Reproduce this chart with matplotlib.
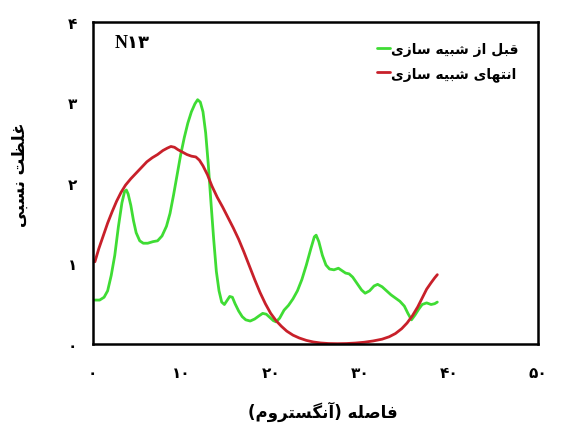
import matplotlib
matplotlib.use("Agg")
import matplotlib.pyplot as plt

# ---- data -------------------------------------------------------------
x_before = [0.27, 0.8, 1.3, 1.7, 2.1, 2.5, 2.9, 3.3, 3.6, 3.8, 4.0, 4.3, 4.6,
            4.9, 5.3, 5.7, 6.2, 6.8, 7.3, 7.8, 8.3, 8.7, 9.1, 9.5, 9.9, 10.3,
            10.7, 11.1, 11.5, 11.8, 12.1, 12.4, 12.7, 13.0, 13.3, 13.6, 13.9,
            14.2, 14.5, 14.8, 15.1, 15.4, 15.7, 16.0, 16.4, 16.8, 17.2, 17.7,
            18.2, 18.7, 19.1, 19.5, 19.9, 20.3, 20.6, 21.0, 21.5, 22.0, 22.5,
            23.0, 23.5, 24.0, 24.5, 24.9, 25.1, 25.4, 25.8, 26.2, 26.6, 27.1,
            27.6, 28.0, 28.4, 28.8, 29.2, 29.7, 30.2, 30.6, 31.1, 31.6, 32.0,
            32.5, 33.0, 33.5, 34.0, 34.5, 35.0, 35.4, 35.8, 36.2, 36.6, 37.0,
            37.5, 38.0, 38.4, 38.7]
y_before = [0.545, 0.545, 0.58, 0.66, 0.85, 1.10, 1.45, 1.75, 1.89, 1.91, 1.86,
            1.72, 1.53, 1.38, 1.28, 1.25, 1.25, 1.27, 1.28, 1.34, 1.46, 1.62,
            1.85, 2.10, 2.35, 2.56, 2.74, 2.88, 2.98, 3.03, 3.00, 2.88, 2.62,
            2.22, 1.75, 1.30, 0.90, 0.66, 0.52, 0.49, 0.54, 0.59, 0.58, 0.50,
            0.41, 0.34, 0.30, 0.285, 0.31, 0.35, 0.38, 0.37, 0.33, 0.29, 0.275,
            0.32, 0.42, 0.48, 0.56, 0.66, 0.80, 0.98, 1.18, 1.33, 1.35, 1.27,
            1.10, 0.98, 0.93, 0.92, 0.94, 0.91, 0.88, 0.87, 0.83, 0.75, 0.67,
            0.63, 0.66, 0.72, 0.74, 0.71, 0.66, 0.61, 0.57, 0.53, 0.47, 0.38,
            0.30, 0.36, 0.43, 0.49, 0.51, 0.49, 0.50, 0.52]

x_end = [0.27, 0.7, 1.2, 1.7, 2.2, 2.7, 3.2, 3.7, 4.3, 4.9, 5.5, 6.1, 6.7, 7.3,
         7.9, 8.4, 8.8, 9.2, 9.6, 10.1, 10.6, 11.1, 11.6, 12.0, 12.4, 12.9,
         13.4, 14.0, 14.6, 15.2, 15.8, 16.4, 17.0, 17.6, 18.2, 18.8, 19.4, 20.0,
         20.6, 21.2, 21.8, 22.5, 23.2, 24.0, 24.8, 25.6, 26.5, 27.5, 28.5, 29.5,
         30.5, 31.5, 32.5, 33.3, 34.0, 34.7, 35.3, 35.9, 36.5, 37.0, 37.5, 38.0,
         38.4, 38.7]
y_end = [1.02, 1.18, 1.34, 1.50, 1.64, 1.77, 1.88, 1.97, 2.05, 2.12, 2.19, 2.26,
         2.31, 2.35, 2.40, 2.43, 2.45, 2.44, 2.41, 2.38, 2.35, 2.33, 2.32, 2.28,
         2.21, 2.10, 1.96, 1.82, 1.70, 1.57, 1.44, 1.30, 1.14, 0.97, 0.80, 0.64,
         0.50, 0.38, 0.29, 0.22, 0.16, 0.11, 0.075, 0.045, 0.025, 0.013, 0.006,
         0.004, 0.006, 0.012, 0.022, 0.038, 0.06, 0.09, 0.13, 0.19, 0.26, 0.35,
         0.46, 0.57, 0.68, 0.76, 0.82, 0.86]

x_ticks = [0, 10, 20, 30, 40, 50]
x_tick_labels = ["۰", "۱۰", "۲۰", "۳۰", "۴۰", "۵۰"]
y_ticks = [0, 1, 2, 3, 4]
y_tick_labels = ["۰", "۱", "۲", "۳", "۴"]

label_before = "قبل از شبیه سازی"
label_end = "انتهای شبیه سازی"
x_title = "فاصله (آنگستروم)"
y_title = "غلظت نسبی"
panel_tag = "N۱۳"

# ---- minimal Arabic-script shaping (presentation forms, visual order) --
# (isolated, final, initial, medial); None => letter joins only to the right
FORMS = {
    "ا": (0xFE8D, 0xFE8E, None, None), "آ": (0xFE81, 0xFE82, None, None),
    "ب": (0xFE8F, 0xFE90, 0xFE91, 0xFE92), "ت": (0xFE95, 0xFE96, 0xFE97, 0xFE98),
    "د": (0xFEA9, 0xFEAA, None, None), "ر": (0xFEAD, 0xFEAE, None, None),
    "ز": (0xFEAF, 0xFEB0, None, None), "س": (0xFEB1, 0xFEB2, 0xFEB3, 0xFEB4),
    "ش": (0xFEB5, 0xFEB6, 0xFEB7, 0xFEB8), "ص": (0xFEB9, 0xFEBA, 0xFEBB, 0xFEBC),
    "ظ": (0xFEC5, 0xFEC6, 0xFEC7, 0xFEC8), "غ": (0xFECD, 0xFECE, 0xFECF, 0xFED0),
    "ف": (0xFED1, 0xFED2, 0xFED3, 0xFED4), "ق": (0xFED5, 0xFED6, 0xFED7, 0xFED8),
    "ک": (0xFB8E, 0xFB8F, 0xFB90, 0xFB91), "گ": (0xFB92, 0xFB93, 0xFB94, 0xFB95),
    "ل": (0xFEDD, 0xFEDE, 0xFEDF, 0xFEE0), "م": (0xFEE1, 0xFEE2, 0xFEE3, 0xFEE4),
    "ن": (0xFEE5, 0xFEE6, 0xFEE7, 0xFEE8), "ه": (0xFEE9, 0xFEEA, 0xFEEB, 0xFEEC),
    "و": (0xFEED, 0xFEEE, None, None), "ی": (0xFBFC, 0xFBFD, 0xFBFE, 0xFBFF),
}
MIRROR = {"(": ")", ")": "("}


def shape_rtl(text):
    out = []
    n = len(text)
    for i, ch in enumerate(text):
        if ch not in FORMS:
            out.append(MIRROR.get(ch, ch))
            continue
        iso, fin, ini, med = FORMS[ch]
        prev = text[i - 1] if i > 0 else ""
        nxt = text[i + 1] if i + 1 < n else ""
        join_prev = prev in FORMS and FORMS[prev][2] is not None
        join_next = ini is not None and nxt in FORMS
        if join_prev and join_next:
            code = med
        elif join_prev:
            code = fin
        elif join_next:
            code = ini
        else:
            code = iso
        out.append(chr(code))
    return "".join(reversed(out))


# ---- figure -----------------------------------------------------------
plt.rcParams["font.family"] = ["DejaVu Sans"]
fig = plt.figure(figsize=(5.63, 4.27), dpi=100)
ax = fig.add_axes([0.1643, 0.192, 0.7913, 0.7553])

green = "#3fdc34"
red = "#c8202a"
ax.plot(x_before, y_before, color=green, lw=2.0, solid_capstyle="round",
        solid_joinstyle="round", label=shape_rtl(label_before))
ax.plot(x_end, y_end, color=red, lw=2.0, solid_capstyle="round",
        solid_joinstyle="round", label=shape_rtl(label_end))

ax.set_xlim(0, 50)
ax.set_ylim(0, 4)
ax.set_xticks(x_ticks)
ax.set_xticklabels(x_tick_labels, fontsize=11, fontweight="bold")
ax.set_yticks(y_ticks)
ax.set_yticklabels(y_tick_labels, fontsize=11, fontweight="bold")
ax.tick_params(axis="x", length=0, pad=15)
ax.tick_params(axis="y", length=0, pad=11)
for sp in ax.spines.values():
    sp.set_linewidth(1.8)
    sp.set_color("black")

ax.legend(loc="upper right", bbox_to_anchor=(0.985, 0.975), frameon=False,
          handlelength=0.9, handletextpad=0.1, labelspacing=0.7,
          prop={"size": 10, "weight": "bold"})

ax.text(0.05, 0.935, panel_tag, transform=ax.transAxes, ha="left", va="center",
        fontsize=13, fontweight="bold",
        family=["Liberation Serif", "DejaVu Sans"])

fig.text(323 / 563, 1 - 412 / 427, shape_rtl(x_title), ha="center", va="center",
         fontsize=12, fontweight="bold")
fig.text(20 / 563, 1 - 175 / 427, shape_rtl(y_title), ha="center", va="center",
         rotation=90, fontsize=12, fontweight="bold")

fig.savefig("out.png", dpi=100)
